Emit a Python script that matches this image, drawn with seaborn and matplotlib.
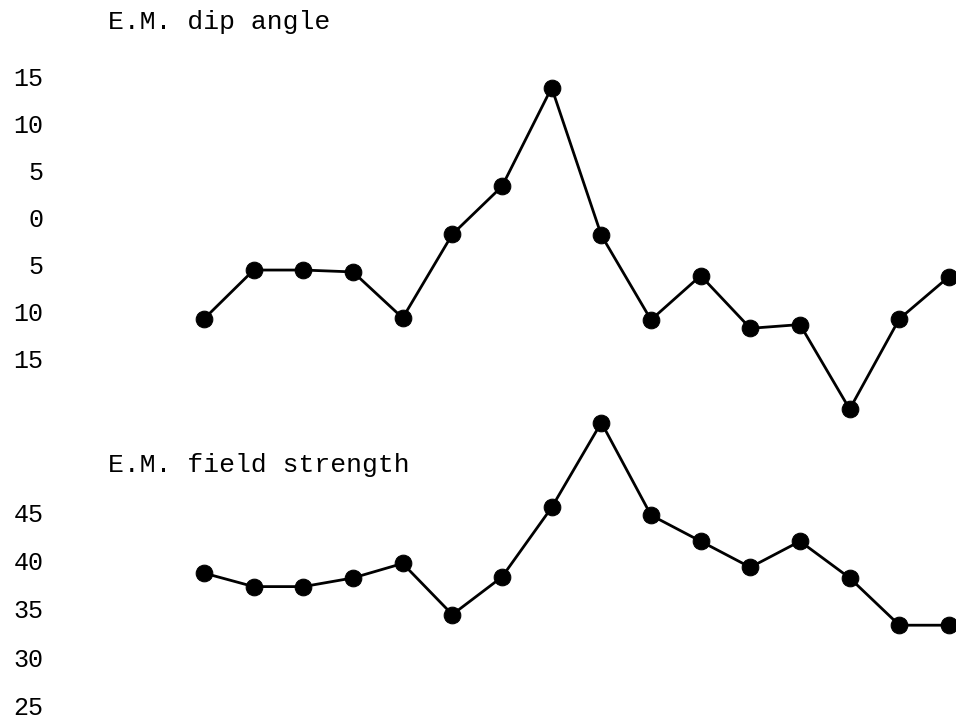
import pandas as pd
import seaborn as sns
import matplotlib.pyplot as plt

# station index along the profile
stations = list(range(16))

# E.M. dip angle (degrees, values below 0 are printed without sign)
dip_angle = [-10.8, -5.6, -5.6, -5.8, -10.7, -1.8, 3.3, 13.8,
             -1.9, -10.9, -6.2, -11.8, -11.4, -20.4, -10.8, -6.3]
dip_ticks = [15, 10, 5, 0, -5, -10, -15]
dip_labels = ['15', '10', '5', '0', '5', '10', '15']

# E.M. field strength
field_strength = [38.7, 37.3, 37.3, 38.2, 39.7, 34.4, 38.3, 45.5,
                  54.3, 44.7, 42.0, 39.3, 42.0, 38.2, 33.3, 33.3]
field_ticks = [45, 40, 35, 30, 25]
field_labels = ['45', '40', '35', '30', '25']

W, H = 956, 720


def px_axes(fig, left, top, right, bottom):
    # axes placed by pixel box
    return fig.add_axes([left / W, 1 - bottom / H, (right - left) / W, (bottom - top) / H])


def style_axis(ax, ticks, labels):
    ax.set_yticks(ticks)
    ax.set_yticklabels(labels)
    ax.set_xticks([])
    ax.set_xlabel('')
    ax.set_ylabel('')
    ax.tick_params(axis='y', length=0, pad=12, labelsize=18, labelcolor='black')
    for s in ax.spines.values():
        s.set_visible(False)
    ax.set_facecolor('none')
    # first station at x=204px, last at x=949px, axes spans 60..956px
    step = (949 - 204) / 15
    ax.set_xlim(-(204 - 60) / step, 15 + (956 - 949) / step)


def plot_profiles():
    sns.set_style('white')
    plt.rcParams['font.family'] = ['Liberation Mono', 'DejaVu Sans Mono']
    plt.rcParams['text.color'] = 'black'

    df = pd.DataFrame({'station': stations,
                       'dip': dip_angle,
                       'field': field_strength})

    fig = plt.figure(figsize=(W / 100, H / 100), dpi=100)

    # top: dip angle, 0 at y=217px, 9.4 px per degree
    ax1 = px_axes(fig, 60, 40, 956, 420)
    sns.lineplot(data=df, x='station', y='dip', ax=ax1, color='black',
                 linewidth=2, marker='o', markersize=12,
                 markeredgecolor='black', clip_on=False)
    ax1.set_ylim((217.4 - 420) / 9.4, (217.4 - 40) / 9.4)
    style_axis(ax1, dip_ticks, dip_labels)

    # bottom: field strength, 35 at y=609px, 9.65 px per unit
    ax2 = px_axes(fig, 60, 400, 956, 720)
    sns.lineplot(data=df, x='station', y='field', ax=ax2, color='black',
                 linewidth=2, marker='o', markersize=12,
                 markeredgecolor='black', clip_on=False)
    ax2.set_ylim(35 - (720 - 608.8) / 9.65, 35 + (608.8 - 400) / 9.65)
    style_axis(ax2, field_ticks, field_labels)

    fig.text(108 / W, 1 - 22 / H, 'E.M. dip angle', fontsize=19,
             ha='left', va='center', color='black')
    fig.text(108 / W, 1 - 465 / H, 'E.M. field strength', fontsize=19,
             ha='left', va='center', color='black')

    plt.savefig('out.png', dpi=100)


if __name__ == "__main__":
    plot_profiles()
